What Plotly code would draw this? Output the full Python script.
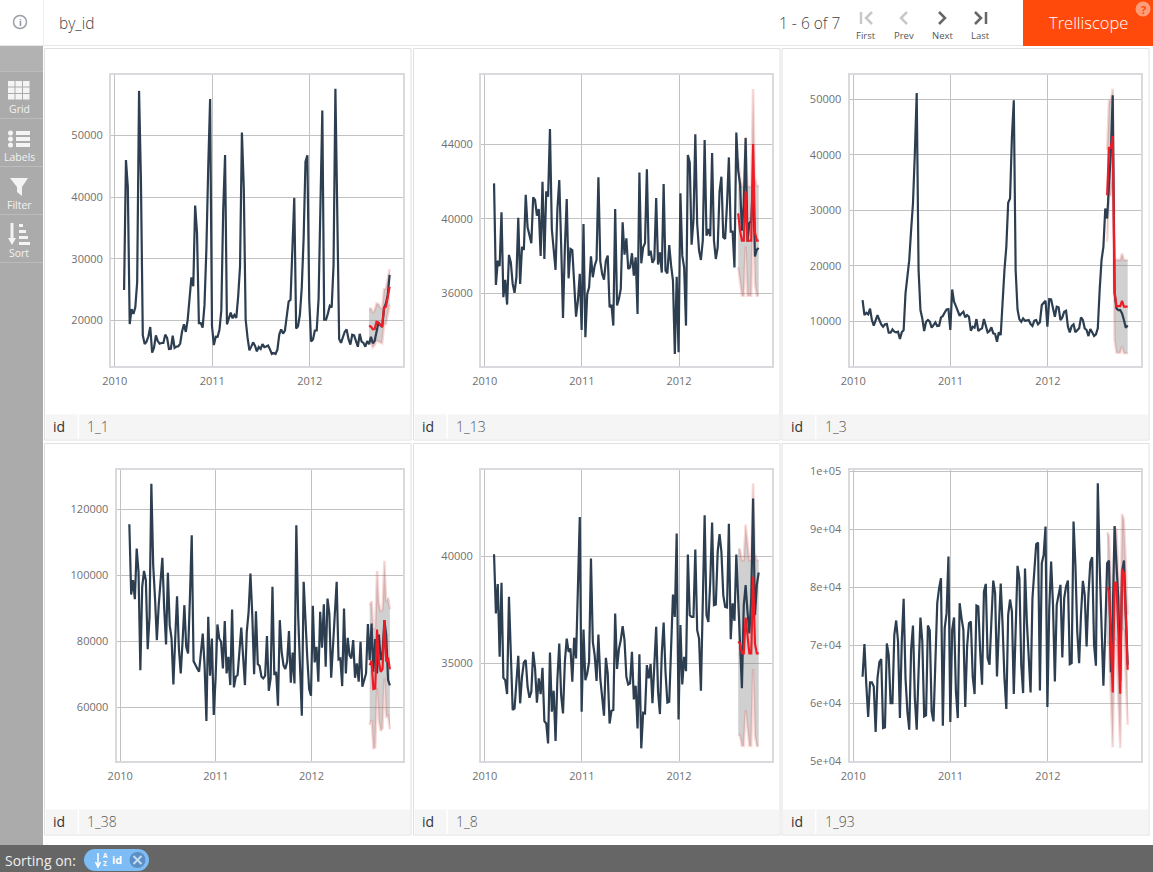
import pandas as pd
import plotly.graph_objects as go
from plotly.subplots import make_subplots

W, H = 1153, 872

ids = ["1_1", "1_13", "1_3", "1_38", "1_8", "1_93"]

year_ticks = ["2010-01-01", "2011-01-01", "2012-01-01"]
year_labels = ["2010", "2011", "2012"]

y_ticks_1 = [20000, 30000, 40000, 50000]
y_ticks_2 = [36000, 40000, 44000]
y_ticks_3 = [10000, 20000, 30000, 40000, 50000]
y_ticks_4 = [60000, 80000, 100000, 120000]
y_ticks_5 = [35000, 40000]
y_ticks_6 = [50000, 60000, 70000, 80000, 90000, 100000]
y_labels_6 = ["5e+04", "6e+04", "7e+04", "8e+04", "9e+04", "1e+05"]

y_range_1 = [12595, 59838]
y_range_2 = [32098, 47740]
y_range_3 = [1880, 54451]
y_range_4 = [43737, 132020]
y_range_5 = [30450, 44022]
y_range_6 = [50000, 100230]

# weekly sales, 2010-02-05 to 2012-10-26
sales_1 = [24925, 46039, 41596, 19404, 21828, 21043, 22137, 26229, 57258, 42961, 17597, 16145, 16555, 17414, 18927, 14773,
           15580, 17558, 16638, 16216, 16329, 16333, 17689, 17151, 15360, 15382, 17508, 15536, 15740, 15794, 16242, 18195,
           19354, 18123, 20094, 23388, 26978, 25543, 38641, 34239, 19549, 19553, 18820, 22518, 31498, 44913, 55931, 19125,
           15985, 17360, 17341, 18461, 21666, 37887, 46846, 19364, 20328, 21280, 20334, 20881, 20398, 23874, 28762, 50510,
           41512, 20138, 17235, 15137, 15742, 16434, 15884, 14978, 15683, 15364, 16149, 15655, 15767, 15922, 15296, 14540,
           14689, 14537, 15277, 17747, 18535, 17859, 18338, 20798, 23078, 23352, 31580, 39886, 18690, 19051, 20911, 25293,
           33306, 45773, 46789, 23351, 16568, 16894, 18365, 18378, 23510, 36988, 54060, 20124, 20113, 21140, 22367, 22108,
           28953, 57592, 34684, 16976, 16348, 17147, 18164, 18518, 16964, 16065, 17666, 17559, 16633, 15723, 17823, 16566,
           16348, 15731, 16628, 16120, 17331, 16286, 16680, 18322, 19616, 19252, 18948, 21904, 22764, 24185, 27391]
sales_2 = [41915, 36456, 37760, 37460, 40360, 35800, 36725, 35400, 38070, 37670, 36510, 36030, 36870, 40070, 36510, 38510,
           38330, 41300, 39550, 39160, 38700, 41160, 41020, 40180, 40540, 38010, 42000, 37850, 41490, 41200, 44830, 39460,
           38480, 37260, 40540, 42090, 38660, 34680, 38480, 41070, 36810, 38390, 38330, 36510, 34750, 35620, 37050, 34040,
           39730, 33650, 35970, 36330, 37990, 36870, 37490, 37800, 42240, 37730, 37050, 36740, 37760, 38030, 35260, 35380,
           34270, 40540, 35350, 35700, 36240, 39820, 38080, 38960, 37310, 37400, 38160, 36960, 37940, 34900, 42500, 37620,
           38480, 38700, 42670, 38030, 38300, 37640, 37850, 41130, 37550, 38210, 37120, 41880, 37230, 37080, 38600, 37490,
           36690, 32750, 36900, 32840, 41380, 38030, 37400, 34270, 43440, 43040, 38620, 39910, 44560, 39730, 38300, 37800,
           38840, 44240, 39100, 39460, 39070, 43540, 38840, 37850, 38480, 41490, 42270, 39020, 38930, 40800, 43310, 39320,
           39320, 37400, 44650, 42600, 41880, 39370, 40790, 44350, 38780, 39770, 39910, 42000, 37990, 38350, 38440]
sales_3 = [13790, 11080, 11500, 11200, 12230, 10180, 9160, 10180, 11080, 10180, 9400, 8980, 9400, 9460, 7900, 7900,
           8500, 8080, 7960, 8080, 6750, 7960, 8380, 14990, 18000, 21000, 26420, 31230, 40260, 51200, 19200, 11990,
           10480, 8200, 9880, 10180, 9880, 8800, 9280, 9760, 9100, 9160, 10660, 10900, 11560, 12100, 12170, 8380,
           15710, 13490, 12710, 11990, 10960, 11380, 11680, 10660, 11080, 10780, 8260, 8980, 8800, 10360, 8200, 8500,
           8680, 10360, 8980, 7960, 8200, 8860, 7770, 7650, 6270, 7960, 7470, 14390, 19200, 23410, 31350, 32130,
           43260, 49880, 19200, 12100, 10300, 9880, 10480, 10060, 10060, 10180, 9460, 9100, 10060, 10180, 9400, 9760,
           12890, 13190, 13670, 8980, 13970, 13910, 12290, 10780, 12590, 12470, 10180, 10660, 11680, 11860, 8980, 7960,
           9100, 9400, 7960, 8380, 8680, 10660, 10180, 8680, 8380, 7290, 8560, 7960, 7290, 7590, 8680, 15590,
           21010, 23410, 30330, 28530, 33640, 40560, 50780, 14990, 12290, 11990, 11990, 11380, 10180, 8800, 9220]
sales_4 = [115550, 94240, 98580, 92830, 108180, 101110, 71310, 96560, 101410, 98580, 77680, 87470, 127870, 103130, 93030, 80400,
           91010, 98580, 105350, 90000, 79090, 100810, 84950, 80910, 66970, 80910, 93740, 77880, 70300, 79900, 91010, 78380,
           76360, 93030, 112220, 74040, 73130, 71820, 70810, 76870, 82420, 72830, 55860, 87470, 69600, 80910, 57680, 68790,
           85150, 80910, 79900, 71820, 86160, 70300, 75350, 66770, 89700, 66060, 69300, 69800, 75860, 84240, 75350, 66770,
           82930, 88990, 100600, 87980, 70100, 89190, 73130, 72530, 69300, 68790, 69600, 81620, 65050, 68790, 96560, 69800,
           70810, 60510, 86460, 76870, 72830, 71620, 73840, 83130, 67480, 76670, 67270, 115250, 87980, 68790, 57480, 98080,
           83940, 74850, 65560, 63540, 90810, 73640, 78380, 67780, 88990, 78080, 91310, 72330, 93030, 88480, 68990, 80910,
           88480, 98080, 74550, 74850, 66470, 90000, 70300, 81110, 75860, 74850, 80400, 68990, 73330, 67780, 79900, 66260,
           68280, 70300, 85250, 74340, 85450, 70810, 80710, 70300, 82120, 74340, 76870, 86460, 81920, 68280, 66670]
sales_5 = [40090, 37330, 38700, 35310, 38760, 34330, 34220, 33570, 38110, 35230, 32830, 32900, 34150, 35360, 33140, 34380,
           35050, 35160, 33910, 33400, 33680, 35540, 34770, 33170, 34300, 33570, 34800, 32310, 32200, 31270, 35510, 32750,
           33730, 31380, 34300, 35930, 33520, 32670, 35080, 36160, 35540, 35700, 34150, 36200, 35230, 38030, 41830, 32750,
           36580, 34220, 34530, 35080, 39890, 36010, 35390, 34180, 36350, 34300, 33370, 32560, 35260, 34530, 32200, 32790,
           32830, 37330, 34740, 35670, 36090, 36740, 36090, 34380, 34020, 34070, 35540, 33320, 33960, 31970, 35430, 31040,
           32700, 32670, 34920, 34300, 34970, 33140, 34920, 36710, 33680, 32640, 35470, 36910, 34610, 33170, 33210, 35780,
           38210, 37170, 41060, 32390, 36790, 34020, 35310, 34640, 40080, 37250, 37170, 37170, 40310, 36550, 36160, 33730,
           37250, 41910, 37250, 36940, 38800, 41570, 37720, 37750, 40200, 41030, 40200, 38180, 37640, 37610, 41520, 36130,
           37800, 36990, 40080, 37720, 36010, 33840, 37720, 38650, 37410, 36400, 38030, 42690, 37250, 38650, 39240]
sales_6 = [64540, 70170, 63160, 57590, 63560, 63560, 62870, 55000, 64310, 67070, 67590, 55690, 55800, 70290, 68330, 60000,
           60000, 71780, 74250, 70630, 57410, 70630, 77990, 64310, 58560, 55400, 69200, 73390, 60860, 55400, 65460, 74770,
           70630, 57700, 57870, 73390, 72530, 58560, 56840, 67760, 77240, 79830, 81550, 56090, 72930, 75520, 85290, 56720,
           72640, 74770, 62010, 57410, 77240, 74660, 72640, 59310, 69770, 73790, 74080, 64600, 61550, 76840, 76670, 68910,
           63160, 79250, 80570, 67760, 66610, 74080, 81150, 78970, 64600, 72930, 80630, 73510, 64310, 58970, 75230, 77870,
           75800, 61550, 72360, 83680, 81550, 66610, 61720, 83220, 74080, 67180, 61840, 78100, 83850, 87410, 87700, 62180,
           84140, 85570, 90460, 59310, 76380, 84430, 76950, 63740, 76950, 78390, 80400, 67870, 78100, 80110, 81150, 66720,
           66900, 91320, 83850, 72360, 66900, 75230, 81090, 78680, 69770, 78680, 84310, 85170, 70060, 66440, 97930, 83850,
           71210, 62990, 72360, 84140, 84600, 65340, 75230, 90570, 83850, 78100, 63740, 82700, 84600, 76380, 66610]

# 12 week forecast, 2012-08-10 to 2012-10-26
mean_1 = [19135, 18973, 18540, 18595, 19784, 19676, 19243, 19081, 22108, 22216, 23838, 25459]
high_1 = [21946, 21946, 21243, 21676, 22757, 22649, 22108, 21946, 25081, 25189, 26811, 28324]
low_1 = [16541, 16270, 15622, 16000, 16703, 16541, 16378, 16270, 19243, 19405, 20973, 22486]
mean_2 = [40300, 39370, 38840, 38840, 41490, 38840, 38840, 38840, 44030, 39280, 38840, 38840]
high_2 = [43220, 42240, 41750, 41750, 44420, 41750, 41750, 41750, 46980, 42240, 41790, 41790]
low_2 = [37400, 36510, 35880, 35880, 38530, 35880, 35880, 35880, 41070, 36510, 35880, 35880]
mean_3 = [32740, 41280, 41340, 43440, 15290, 12710, 12710, 12710, 13670, 12590, 12590, 12590]
high_3 = [40860, 49760, 49760, 51980, 21130, 21130, 21010, 21010, 22210, 21010, 21010, 21010]
low_3 = [24320, 32740, 32740, 35140, 6570, 4290, 4290, 4290, 5370, 4170, 4170, 4170]
mean_4 = [72830, 74140, 65560, 65760, 83640, 73840, 70810, 71620, 86460, 73840, 75150, 71520]
high_4 = [91010, 92220, 83940, 83940, 101410, 91820, 88990, 89800, 104440, 92020, 93330, 89800]
low_4 = [54650, 56160, 47580, 47780, 65760, 55960, 52930, 53640, 68790, 57170, 57480, 53340]
mean_5 = [36010, 35930, 35470, 35470, 37140, 36290, 35470, 35470, 39040, 35930, 35470, 35470]
high_5 = [40310, 40310, 39810, 39810, 41480, 40590, 39810, 39810, 43390, 40120, 39810, 39810]
low_5 = [31690, 31630, 31150, 31150, 32830, 31970, 31150, 31150, 34740, 31630, 31150, 31150]
mean_6 = [80000, 79370, 71210, 61840, 80860, 80630, 72360, 61610, 83100, 82410, 74660, 65750]
high_6 = [89480, 88850, 80690, 71320, 90340, 89890, 81840, 71090, 92590, 91610, 84140, 75230]
low_6 = [70630, 69940, 60860, 52360, 71210, 70630, 60860, 52240, 72930, 72360, 64310, 56260]

sales = [sales_1, sales_2, sales_3, sales_4, sales_5, sales_6]
means = [mean_1, mean_2, mean_3, mean_4, mean_5, mean_6]
highs = [high_1, high_2, high_3, high_4, high_5, high_6]
lows = [low_1, low_2, low_3, low_4, low_5, low_6]
y_ticks = [y_ticks_1, y_ticks_2, y_ticks_3, y_ticks_4, y_ticks_5, y_ticks_6]
y_ranges = [y_range_1, y_range_2, y_range_3, y_range_4, y_range_5, y_range_6]

weeks = pd.date_range("2010-02-05", periods=143, freq="7D")
forecast_weeks = pd.date_range("2012-08-10", periods=12, freq="7D")

FONT = "Open Sans"
NAVY = "#2c3e50"
RED = "#ee1c25"

# panel frames in page pixels: left, right, top, bottom
frames = [(111, 403, 75, 366), (481, 772, 75, 366), (849.5, 1141, 75, 366),
          (116.5, 403, 470, 761), (481, 772, 470, 761), (849.5, 1141, 470, 761)]
# outer boxes
boxes = [(44.5, 411, 48.5, 440), (413.5, 780, 48.5, 440), (782, 1149, 48.5, 440),
         (44.5, 411, 443.5, 835), (413.5, 780, 443.5, 835), (782, 1149, 443.5, 835)]


def px(x):
    return x / W


def py(y):
    return 1 - y / H


def rect(x0, y0, x1, y1, fill, line=None, layer="below"):
    return dict(type="rect", xref="paper", yref="paper", x0=px(x0), x1=px(x1), y0=py(y0), y1=py(y1),
                fillcolor=fill, line=dict(color=line or fill, width=1 if line else 0), layer=layer)


def circle(cx, cy, r, fill, line=None):
    return dict(type="circle", xref="paper", yref="paper", x0=px(cx - r), x1=px(cx + r), y0=py(cy - r), y1=py(cy + r),
                fillcolor=fill, line=dict(color=line or fill, width=1.5 if line else 0), layer="above")


def path(points, color, width=2.5, fill=None):
    d = "M" + " L".join(f"{px(x):.5f},{py(y):.5f}" for x, y in points)
    if fill:
        d += " Z"
    return dict(type="path", xref="paper", yref="paper", path=d, layer="above",
                fillcolor=fill or "rgba(0,0,0,0)", line=dict(color=color, width=width if not fill else 0))


def label(x, y, text, size=12, color="#555555", anchor="left", bold=False, weight=300):
    return dict(xref="paper", yref="paper", x=px(x), y=py(y), text=f"<b>{text}</b>" if bold else text,
                showarrow=False, xanchor=anchor, yanchor="middle",
                font=dict(family=FONT, size=size, color=color, weight=weight))


fig = make_subplots(rows=2, cols=3)

for i in range(6):
    row, col = i // 3 + 1, i % 3 + 1
    fig.add_trace(go.Scatter(x=forecast_weeks, y=lows[i], mode="lines",
                             line=dict(color="rgba(225,60,60,0.2)", width=2.5), hoverinfo="skip"),
                  row=row, col=col)
    fig.add_trace(go.Scatter(x=forecast_weeks, y=highs[i], mode="lines", fill="tonexty",
                             fillcolor="rgba(120,120,120,0.35)",
                             line=dict(color="rgba(225,60,60,0.2)", width=2.5), hoverinfo="skip"),
                  row=row, col=col)
    fig.add_trace(go.Scatter(x=weeks, y=sales[i], mode="lines", line=dict(color=NAVY, width=2.2)),
                  row=row, col=col)
    fig.add_trace(go.Scatter(x=forecast_weeks, y=means[i], mode="lines", line=dict(color=RED, width=2.2)),
                  row=row, col=col)

    left, right, top, bottom = frames[i]
    fig.update_xaxes(domain=[px(left), px(right)], range=["2009-12-18", "2012-12-15"],
                     tickvals=year_ticks, ticktext=year_labels, automargin=False,
                     showline=True, mirror=True, linecolor="#d8dadd", linewidth=2,
                     gridcolor="#c2c2c2", gridwidth=1, zeroline=False,
                     ticks="outside", ticklen=4, tickcolor="rgba(0,0,0,0)",
                     tickfont=dict(family=FONT, size=11, color="#707070"), row=row, col=col)
    fig.update_yaxes(domain=[py(bottom), py(top)], range=y_ranges[i], tickvals=y_ticks[i], automargin=False,
                     showline=True, mirror=True, linecolor="#d8dadd", linewidth=2,
                     gridcolor="#c2c2c2", gridwidth=1, zeroline=False,
                     ticks="outside", ticklen=4, tickcolor="rgba(0,0,0,0)", tickformat="d",
                     tickfont=dict(family=FONT, size=11, color="#707070"), row=row, col=col)

fig.update_yaxes(ticktext=y_labels_6, row=2, col=3)

shapes = []
notes = []

# page chrome
shapes.append(rect(0, 46, 43, 845, "#ababab"))
shapes.append(rect(0, 46, 43, 71, "#b2b2b2"))
shapes.append(rect(0, 845, W, H, "#666666"))
shapes.append(rect(0, 45, W, 46, "#e6e6e6"))
shapes.append(rect(43, 0, 44, 45, "#eeeeee"))
shapes.append(rect(1023, 0, W, 46, "#ff4a0c"))
for y in [71, 118, 166, 214, 262]:
    shapes.append(rect(0, y, 43, y + 1, "#bbbbbb"))

# panel boxes and their cognostic strip
for i in range(6):
    x0, x1, y0, y1 = boxes[i]
    shapes.append(rect(x0, y0, x1, y1, "#ffffff", "#e0e0e0"))
    shapes.append(rect(x0 + 1, y1 - 25.5, x1 - 1, y1 - 1, "#f5f5f5"))
    shapes.append(rect(x0 + 33, y1 - 25.5, x0 + 34.5, y1 - 1, "#ffffff"))
    notes.append(label(x0 + 6.5, y1 - 13.5, "id", 14, "#333333", weight=400))
    notes.append(label(x0 + 40.5, y1 - 13.5, ids[i], 14, "#555555"))

# header
shapes.append(circle(20, 22, 6.5, "rgba(0,0,0,0)", "#9a9fa8"))
notes.append(label(20, 22, "i", 9, "#8a8f98", "center", True))
notes.append(label(57, 23, "by_id", 15.5, "#444444"))
notes.append(label(777, 23, "1 - 6 of 7", 15.5, "#444444"))
notes.append(label(1088, 23, "Trelliscope", 16.5, "#ffffff", "center"))
shapes.append(circle(1143, 9, 7.5, "#ff9d78"))
notes.append(label(1143, 9, "?", 11, "#ff4a0c", "center", True))

shapes.append(path([(861, 12), (861, 24)], "#c8c8c8"))
shapes.append(path([(872, 12), (866, 18), (872, 24)], "#c8c8c8"))
shapes.append(path([(907, 12), (901, 18), (907, 24)], "#c8c8c8"))
shapes.append(path([(939, 12), (945, 18), (939, 24)], "#666666"))
shapes.append(path([(975, 12), (981, 18), (975, 24)], "#666666"))
shapes.append(path([(986, 12), (986, 24)], "#666666"))
for x, text in zip([866, 904, 942, 980], ["First", "Prev", "Next", "Last"]):
    notes.append(label(x, 36, text, 9.5, "#555555", "center", weight=400))

# sidebar icons
ICON = "#f4f4f4"
for gx in [8, 15.5, 23]:
    for gy in [81, 87.5, 94]:
        shapes.append(rect(gx, gy, gx + 6.5, gy + 5.5, ICON, layer="above"))
for gy in [133, 139, 145]:
    shapes.append(circle(10.5, gy, 2.5, ICON))
    shapes.append(rect(16, gy - 2, 30, gy + 2, ICON, layer="above"))
shapes.append(path([(10, 178), (28, 178), (22, 187), (22, 196), (17, 192), (17, 187)], ICON, fill=ICON))
shapes.append(path([(12, 223), (12, 242)], ICON, 3))
shapes.append(path([(8, 238), (12, 245), (16, 238)], ICON, fill=ICON))
shapes.append(rect(19, 224, 23, 227, ICON, layer="above"))
shapes.append(rect(19, 230, 26, 233, ICON, layer="above"))
shapes.append(rect(19, 236, 28, 239, ICON, layer="above"))
shapes.append(rect(19, 242, 30, 245, ICON, layer="above"))
for y, text in zip([109, 157, 205, 253], ["Grid", "Labels", "Filter", "Sort"]):
    notes.append(label(19, y, text, 10.5, "#f2f2f2", "center", weight=400))

# sort bar
notes.append(label(3, 860.5, "Sorting on:", 14, "#eeeeee", weight=400))
shapes.append(circle(95, 860, 11, "#7dbcf5"))
shapes.append(circle(138, 860, 11, "#7dbcf5"))
shapes.append(rect(95, 849, 138, 871, "#7dbcf5", layer="above"))
shapes.append(circle(137.5, 860, 8, "#5c90c4"))
shapes.append(path([(133.5, 856), (141.5, 864)], "#c5dcf2", 2))
shapes.append(path([(141.5, 856), (133.5, 864)], "#c5dcf2", 2))
shapes.append(path([(98, 853), (98, 866)], "#ffffff", 1.5))
shapes.append(path([(95.5, 862), (98, 867), (100.5, 862)], "#ffffff", 1.5))
notes.append(label(105, 855.5, "A", 6.5, "#ffffff", "center", True))
notes.append(label(105, 863.5, "Z", 6.5, "#ffffff", "center", True))
notes.append(label(110, 859.5, "id", 11, "#ffffff", bold=True))

fig.update_layout(width=W, height=H, margin=dict(l=0, r=0, t=0, b=0), showlegend=False,
                  paper_bgcolor="#ffffff", plot_bgcolor="rgba(0,0,0,0)",
                  font=dict(family=FONT), shapes=shapes, annotations=notes)

# drop the browser's default page margin so the figure sits at 0,0
fig.write_html("out.html", config={"displayModeBar": False},
               post_script="document.body.style.margin = '0';")
